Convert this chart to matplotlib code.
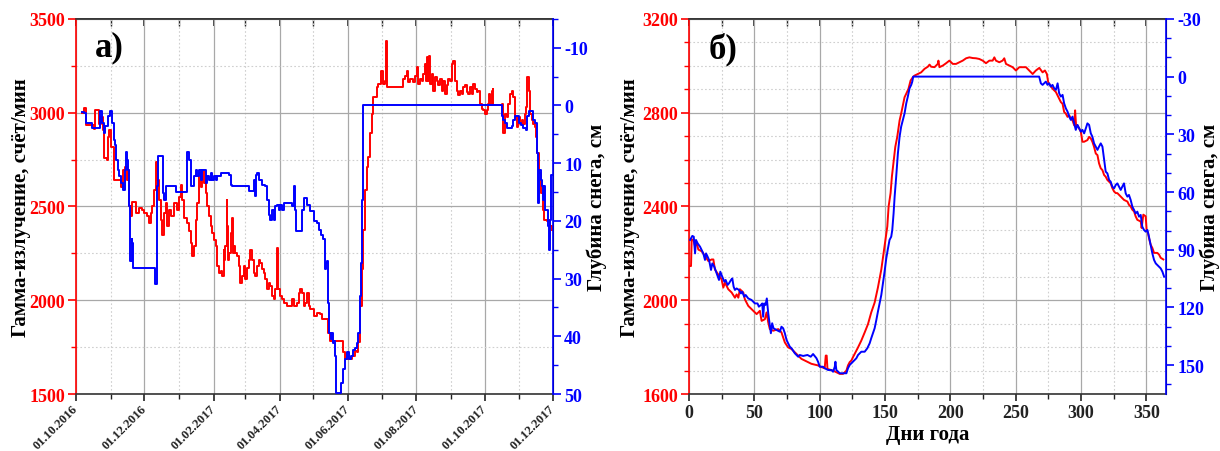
import numpy as np
import matplotlib
matplotlib.use("Agg")
import matplotlib.pyplot as plt
import matplotlib.dates as mdates
from matplotlib.ticker import MultipleLocator, NullFormatter
from datetime import datetime

plt.rcParams['font.family'] = ['Liberation Serif', 'DejaVu Serif']
plt.rcParams['font.weight'] = 'bold'
plt.rcParams['axes.unicode_minus'] = False

# ---------------- Panel a) : days since 01.10.2016 ----------------
a_gamma_day = [5.0, 7.4, 8.9, 16.3, 16.9, 19.3, 20.8, 22.3, 23.7, 25.2, 27.3, 28.2, 29.7, 31.2, 34.1, 37.1,
               40.1, 42.4, 43.6, 45.1, 46.0, 47.5, 49.0, 50.4, 53.4, 56.4, 59.3, 60.8, 63.8, 65.3, 66.8, 68.2,
               69.7, 71.2, 72.7, 74.2, 75.7, 77.2, 78.6, 80.1, 81.6, 83.1, 84.6, 87.5, 90.5, 92.0, 93.5, 95.0,
               96.4, 99.4, 100.9, 102.4, 103.9, 105.3, 106.8, 108.3, 109.8, 111.3, 112.8, 114.2, 115.7, 117.2,
               118.7, 120.2, 121.7, 123.1, 124.6, 126.1, 127.6, 129.1, 130.6, 132.0, 132.6, 133.5, 134.4, 135.0,
               135.9, 136.8, 138.0, 138.9, 139.8, 141.0, 142.4, 143.9, 145.4, 146.9, 148.4, 149.9, 151.3, 152.8,
               154.3, 155.8, 157.3, 158.8, 160.2, 161.7, 163.2, 164.7, 166.2, 167.7, 169.1, 170.6, 172.1, 173.6,
               175.1, 176.6, 178.0, 179.5, 180.1, 182.5, 184.0, 185.5, 188.4, 191.4, 192.9, 194.4, 197.3, 198.8,
               200.3, 201.8, 203.3, 204.7, 206.2, 207.7, 209.2, 212.2, 215.1, 218.1, 219.6, 223.8, 225.3, 226.8,
               237.2, 238.7, 240.2, 243.1, 246.1, 249.1, 250.6, 252.1, 253.5, 255.0, 256.5, 258.0, 259.5, 261.0,
               262.5, 264.0, 265.4, 268.4, 269.9, 272.0, 273.8, 275.9, 276.8, 278.0, 290.7, 292.2, 293.7, 295.2,
               296.1, 298.2, 301.2, 302.7, 304.1, 305.6, 307.1, 308.6, 310.1, 311.6, 312.5, 313.1, 314.0, 315.2,
               316.0, 317.5, 319.0, 320.5, 322.0, 323.5, 325.0, 326.5, 328.0, 329.4, 330.9, 332.4, 333.9, 335.4,
               336.9, 338.4, 339.9, 341.3, 342.8, 344.3, 345.8, 347.3, 348.8, 350.3, 351.8, 353.2, 354.7, 356.2,
               357.7, 359.2, 360.7, 362.2, 363.7, 365.1, 366.6, 368.1, 369.0, 369.6, 371.1, 372.0, 372.6, 380.0,
               380.9, 381.5, 383.0, 384.5, 386.0, 387.5, 389.0, 390.4, 391.9, 393.4, 394.9, 396.4, 397.9, 399.4,
               400.9, 402.3, 403.2, 404.1, 405.3, 406.8, 408.3, 409.8, 410.7, 411.9, 413.7, 415.2, 416.6, 418.1,
               420.2, 421.7, 423.2, 424.7]
a_gamma = [3000, 3025, 2933, 2915, 3016, 3012, 2942, 2977, 2906, 2756, 2747, 2871, 2906, 2818, 2641, 2641,
           2606, 2694, 2712, 2641, 2694, 2500, 2447, 2526, 2465, 2491, 2482, 2465, 2447, 2412, 2465, 2500,
           2588, 2738, 2641, 2535, 2429, 2350, 2465, 2518, 2394, 2482, 2447, 2518, 2482, 2553, 2615, 2535,
           2438, 2412, 2367, 2306, 2235, 2288, 2429, 2518, 2677, 2606, 2694, 2624, 2571, 2500,
           2447, 2394, 2359, 2323, 2288, 2182, 2147, 2155, 2129, 2270, 2217, 2288, 2535, 2394,
           2217, 2253, 2359, 2438, 2253, 2288, 2253, 2235, 2182, 2094, 2129, 2182, 2111, 2173,
           2217, 2270, 2217, 2147, 2129, 2182, 2217, 2200, 2164, 2147, 2111, 2058, 2094, 2076,
           2023, 2005, 2058, 2279, 2058, 2023, 2005, 1988, 1970, 1970, 2005, 1970, 1988, 2041,
           2058, 2041, 1970, 1988, 2041, 1970, 1952, 1917, 1934, 1926, 1899, 1899, 1828, 1784,
           1784, 1722, 1687, 1687, 1705, 1731, 1722, 1775, 1970, 2164, 2376, 2588, 2712, 2765,
           2889, 2995, 3083, 3136, 3154, 3224, 3154, 3171, 3383, 3136, 3136, 3180, 3198, 3224,
           3163, 3180, 3163, 3198, 3242, 3154, 3180, 3171, 3207, 3260, 3171, 3295, 3171, 3304,
           3154, 3207, 3118, 3189, 3171, 3145, 3180, 3118, 3171, 3101, 3145, 3180, 3171, 3260,
           3277, 3171, 3118, 3092, 3118, 3101, 3136, 3145, 3110, 3101, 3136, 3101, 3154, 3127,
           3110, 3118, 3048, 3021, 3012, 2995, 3012, 3048, 3101, 3039, 3118, 3127, 3039, 3048,
           2942, 2889, 2995, 2977, 3048, 3101, 3118, 3083, 2977, 2924, 2977, 2942, 2959, 2942,
           2995, 3030, 3189, 3118, 2995, 2959, 2942, 2924, 2871, 2783, 2677, 2571, 2482, 2429,
           2420, 2429, 2394, 2376]

a_snow_day = [5.0, 7.4, 8.9, 13.4, 13.9, 20.8, 21.7, 22.8, 24.6, 25.8, 28.2, 30.6, 31.8, 33.5, 34.7, 35.6,
              37.1, 38.6, 40.1, 42.4, 43.6, 44.5, 45.4, 46.6, 47.5, 48.4, 49.6, 50.4, 51.3, 68.2, 70.3, 72.1,
              73.3, 76.3, 77.4, 78.6, 80.1, 81.6, 87.5, 89.0, 97.9, 99.4, 100.9, 102.4, 103.9, 105.3, 106.8,
              108.3, 109.8, 111.3, 112.8, 114.2, 115.7, 117.2, 118.7, 120.2, 121.7, 123.1, 124.6, 126.1, 129.1,
              136.5, 138.0, 139.5, 152.8, 154.3, 157.3, 158.8, 159.6, 160.5, 161.7, 163.2, 166.2, 169.1, 170.6,
              172.1, 173.6, 175.1, 176.6, 178.0, 179.5, 181.0, 182.5, 184.0, 185.5, 191.4, 192.9, 194.4, 195.3,
              196.7, 200.3, 201.8, 203.3, 206.2, 209.2, 212.2, 215.1, 216.6, 218.7, 220.8, 222.3, 223.2, 224.4,
              225.3, 226.2, 227.4, 228.2, 229.1, 230.3, 231.2, 232.1, 235.1, 236.3, 238.7, 240.2, 242.2, 244.0,
              245.2, 247.0, 249.1, 250.6, 252.1, 253.5, 254.4, 255.6, 256.5, 378.5, 380.0, 381.5, 383.0, 384.5,
              387.5, 389.0, 390.4, 391.9, 394.9, 395.8, 397.0, 399.4, 401.8, 403.0, 404.1, 406.8, 408.3, 409.8,
              411.3, 411.9, 412.5, 413.7, 414.9, 415.8, 416.6, 417.8, 418.7, 420.2, 421.4, 422.3, 423.2, 424.1,
              425.6]
a_snow = [1.2, 1.3, 3.1, 3.1, 3.9, 3.9, 1.0, 3.1, 4.8, 3.6, 1.9, 0.9, 3.1, 5.9, 6.8, 9.4,
          11.1, 12.3, 13.4, 14.6, 11.1, 8.0, 9.4, 11.1, 17.5, 27.0, 23.2, 23.8, 28.1, 28.1, 31.0, 14.0,
          8.8, 8.8, 15.2, 16.3, 14.0, 13.9, 13.9, 15.0, 15.0, 8.0, 9.4, 14.0, 14.0, 12.3, 11.1,
          12.3, 11.1, 12.9, 11.1, 11.1, 13.4, 12.3, 12.9, 11.7, 12.9, 12.3, 12.9, 12.3, 11.7,
          12.0, 13.7, 14.0, 14.0, 14.9, 14.9, 12.9, 15.7, 12.0, 11.7, 12.9, 13.7, 14.0, 16.3,
          18.9, 19.8, 18.1, 19.8, 17.5, 17.2, 18.1, 17.2, 18.1, 16.9, 16.9, 17.5, 14.0, 18.1,
          21.8, 21.8, 18.1, 16.0, 17.2, 18.3, 20.1, 20.4, 21.5, 22.5, 23.2, 28.4, 27.3, 27.0,
          34.2, 39.4, 40.5, 39.4, 41.1, 40.8, 43.4, 49.8, 49.8, 48.0, 45.7, 44.0, 42.8, 44.0,
          43.4, 42.3, 42.0, 41.1, 39.4, 33.0, 27.3, 16.3, 0.0, 0.0, 1.9, 2.5, 3.1, 3.9,
          3.9, 3.6, 2.5, 1.9, 1.9, 3.1, 3.3, 3.9, 4.2, 1.9, 1.0, 1.0, 2.5, 3.1,
          4.2, 8.2, 16.9, 11.1, 12.9, 14.0, 16.3, 14.0, 18.1, 18.1, 20.9, 25.0, 19.8, 12.0,
          12.0]

# ---------------- Panel б) : day of year ----------------
b_gamma_day = [0.0, 1.5, 2.0, 3.3, 4.6, 5.9, 7.1, 9.7, 12.2, 14.8, 17.3, 18.6, 19.8, 22.4, 24.9, 26.2, 27.5,
               30.0, 32.6, 35.1, 36.4, 37.7, 38.9, 41.5, 42.7, 45.3, 47.8, 50.4, 51.7, 54.2, 55.5, 58.0, 59.3,
               60.6, 61.8, 64.4, 68.2, 70.7, 73.3, 75.8, 78.4, 80.9, 83.5, 86.0, 88.5, 91.1, 93.6, 98.7, 101.3,
               103.8, 104.6, 105.3, 105.9, 110.2, 112.7, 115.3, 117.8, 119.1, 120.4, 121.6, 122.9, 124.2, 125.4,
               126.7, 128.0, 129.3, 131.8, 134.4, 136.9, 139.4, 142.0, 144.5, 147.1, 148.9, 150.4, 151.7, 152.7,
               154.2, 155.2, 156.7, 157.8, 159.3, 161.1, 162.3, 163.6, 164.9, 166.2, 167.9, 169.5, 171.2, 172.5,
               175.1, 177.6, 180.2, 182.7, 184.0, 185.2, 187.8, 190.3, 190.8, 191.6, 194.2, 196.7, 199.2, 201.8,
               204.3, 206.9, 209.4, 212.0, 214.5, 217.1, 219.6, 222.1, 224.7, 227.2, 229.8, 232.3, 233.6, 234.8,
               237.4, 239.9, 241.2, 242.5, 245.0, 247.6, 250.1, 252.7, 255.2, 257.8, 260.3, 262.9, 265.4, 268.0,
               270.5, 272.3, 273.8, 274.8, 276.4, 278.2, 280.7, 282.0, 283.2, 284.5, 285.8, 287.0, 288.3, 289.6,
               290.9, 292.1, 293.4, 294.7, 295.4, 296.2, 297.2, 298.5, 299.8, 301.0, 302.3, 304.8, 306.1, 307.4,
               308.6, 309.9, 311.2, 312.5, 313.7, 315.0, 316.3, 317.6, 318.8, 320.1, 321.4, 322.6, 323.9, 325.2,
               326.5, 327.7, 330.3, 331.5, 332.8, 335.4, 336.6, 337.9, 339.2, 340.5, 341.7, 343.0, 345.6, 346.3,
               347.6, 349.4, 350.1, 351.2, 351.9, 353.2, 354.5, 355.8, 358.3, 359.6, 360.9, 362.9]
b_gamma = [2146, 2146, 2259, 2259, 2230, 2244, 2216, 2209, 2188, 2167, 2174, 2174, 2131, 2110, 2089, 2054, 2075,
           2047, 2033, 2011, 2025, 2011, 2047, 2033, 2004, 1976, 1962, 1948, 1941, 1955, 1912, 1919, 1948,
           1905, 1877, 1870, 1877, 1863, 1820, 1799, 1792, 1778, 1764, 1750, 1743, 1736, 1729, 1722, 1715,
           1710, 1764, 1764, 1707, 1700, 1693, 1686, 1686, 1693, 1700, 1722, 1736, 1743, 1757,
           1771, 1785, 1799, 1828, 1863, 1898, 1948, 1990, 2054, 2131, 2202, 2259, 2315, 2400,
           2457, 2527, 2598, 2654, 2697, 2767, 2796, 2831, 2866, 2881, 2902, 2937, 2951, 2958,
           2965, 2972, 2987, 2996, 3005, 2996, 2994, 3008, 3022, 2994, 3001, 3011, 3022, 3008,
           3008, 3015, 3022, 3032, 3036, 3033, 3032, 3029, 3022, 3011, 3022, 3022, 3036, 3022,
           3015, 3022, 3032, 3008, 3001, 2994, 2980, 2994, 2994, 2994, 2980, 2965, 2980, 2991,
           2972, 2980, 2965, 2930, 2916, 2902, 2888, 2873, 2859, 2845, 2838, 2803, 2796, 2782,
           2789, 2775, 2767, 2746, 2810, 2739, 2746, 2732, 2718, 2676, 2676, 2683, 2697, 2690,
           2676, 2654, 2626, 2619, 2584, 2563, 2555, 2534, 2527, 2513, 2506, 2499, 2478, 2464,
           2457, 2457, 2442, 2435, 2428, 2421, 2407, 2400, 2386, 2379, 2358, 2343, 2336, 2308,
           2365, 2358, 2301, 2287, 2266, 2237, 2223, 2202, 2202, 2195, 2181, 2174]

b_snow_day = [0.8, 2.5, 3.6, 4.6, 5.3, 6.6, 8.4, 10.9, 12.2, 13.0, 14.2, 15.3, 16.8, 17.8, 19.3, 21.1, 22.9,
              23.9, 25.4, 27.0, 28.0, 29.5, 30.5, 32.1, 33.1, 34.1, 35.1, 36.4, 38.2, 39.7, 40.7, 42.2, 43.3,
              45.3, 47.8, 50.4, 52.4, 53.4, 55.0, 56.0, 56.7, 57.5, 58.5, 59.5, 60.6, 61.6, 62.6, 63.6, 64.6,
              66.9, 69.5, 70.7, 72.0, 73.3, 74.6, 75.8, 77.1, 78.4, 80.9, 83.5, 84.7, 87.3, 90.6, 93.1, 94.9,
              97.5, 98.7, 100.0, 102.5, 103.8, 106.4, 108.9, 110.2, 111.5, 112.0, 112.7, 115.3, 117.8, 120.4,
              121.6, 122.9, 125.4, 128.0, 129.3, 131.8, 134.4, 136.4, 138.2, 139.4, 142.0, 143.3, 144.5, 147.1,
              149.6, 150.9, 152.2, 153.4, 154.7, 155.5, 156.5, 157.3, 158.5, 159.8, 161.1, 162.3, 163.6, 164.9,
              166.2, 167.4, 168.7, 170.0, 170.8, 171.5, 267.9, 269.2, 270.5, 271.7, 273.0, 274.3, 275.5, 276.8,
              278.1, 279.4, 280.7, 282.0, 283.2, 284.5, 285.8, 287.0, 288.3, 289.6, 290.9, 292.1, 293.4, 294.7,
              295.9, 297.2, 298.5, 299.8, 301.0, 302.3, 303.6, 304.8, 306.1, 307.4, 308.6, 309.9, 311.2, 312.5,
              313.7, 315.0, 316.3, 317.6, 318.8, 320.1, 321.4, 322.6, 323.9, 325.2, 326.5, 327.7, 329.0, 330.3,
              331.5, 332.8, 334.1, 335.4, 336.6, 337.9, 339.2, 340.5, 341.7, 343.0, 344.3, 345.6, 346.8, 348.1,
              349.4, 350.7, 351.9, 353.2, 354.5, 355.8, 357.1, 358.3, 359.6, 360.9, 362.2, 363.5]
b_snow = [84.9, 82.8, 83.2, 91.9, 84.9, 86.7, 88.4, 91.9, 95.3, 91.9, 93.6, 95.3, 100.5, 97.1, 98.8, 102.3, 105.7,
          101.4, 104.0, 106.6, 105.7, 108.3, 107.5, 105.7, 104.9, 109.2, 110.9, 110.1, 110.9, 112.7, 111.8, 114.4, 113.5,
          115.3, 116.1, 117.9, 117.9, 119.6, 118.7, 117.9, 124.8, 117.9, 118.7, 115.3, 123.1, 128.2, 133.4, 128.2, 130.8,
          131.7, 132.6, 130.0, 130.8, 133.4, 136.9, 138.6, 140.4, 141.2, 143.8, 145.6, 144.7, 145.2, 144.7, 145.6, 144.2,
          146.4, 148.2, 150.8, 150.8, 151.6, 152.5, 152.5, 153.4, 150.8, 148.2, 152.5, 154.2, 154.2, 154.2,
          151.6, 149.9, 148.2, 146.4, 144.7, 143.0, 143.0, 141.2, 138.6, 136.0, 130.8, 126.5, 122.2, 113.5,
          101.4, 94.5, 89.3, 84.9, 83.2, 79.7, 71.1, 62.4, 52.0, 39.9, 31.2, 26.0, 22.5, 19.1,
          13.9, 10.4, 6.1, 4.3, 2.6, 0.0, 0.0, 3.5, 4.3, 3.5, 2.6, 4.3, 3.5, 5.2,
          4.3, 6.1, 6.9, 3.5, 8.7, 10.4, 9.5, 13.9, 16.5, 18.2, 20.8, 22.5, 20.8, 24.3,
          27.7, 25.1, 26.9, 28.6, 27.7, 29.5, 26.9, 24.3, 25.1, 29.5, 31.2, 34.7, 36.4, 38.1,
          36.4, 34.7, 36.4, 43.3, 49.4, 50.3, 53.7, 54.6, 57.2, 58.1, 56.3, 55.5, 57.2, 58.9,
          57.2, 55.5, 60.7, 62.4, 61.5, 64.1, 67.6, 69.3, 71.1, 70.2, 72.8, 71.9, 78.0, 79.7,
          80.6, 79.7, 83.2, 87.5, 91.9, 95.3, 97.1, 97.9, 98.8, 99.7, 101.4, 104.0]

ylabel_left = 'Гамма-излучение, счёт/мин'
ylabel_right = 'Глубина снега, см'
xlabel_b = 'Дни года'

RED = '#ff0000'
BLUE = '#0000ff'
LW = 1.4

fig = plt.figure(figsize=(12.2, 4.52), dpi=100)
axa = fig.add_axes([0.0623, 0.126, 0.391, 0.830])
axb = fig.add_axes([0.5648, 0.126, 0.391, 0.830])


def style(ax, ax2, ymaj, ymin, y2maj, y2min, lx, rx):
    ax.yaxis.set_major_locator(MultipleLocator(ymaj))
    ax.yaxis.set_minor_locator(MultipleLocator(ymin))
    ax2.yaxis.set_major_locator(MultipleLocator(y2maj))
    ax2.yaxis.set_minor_locator(MultipleLocator(y2min))
    ax.grid(which='major', color='#a8a8a8', lw=0.9)
    ax.grid(which='minor', color='#cfcfcf', lw=0.8, ls=(0, (1.5, 2)))
    ax.set_axisbelow(True)
    for sp in ('top', 'bottom'):
        ax.spines[sp].set_color('#333333')
        ax.spines[sp].set_linewidth(1.2)
    ax.spines['left'].set_color(RED)
    ax.spines['left'].set_linewidth(1.2)
    ax2.spines['right'].set_color(BLUE)
    ax2.spines['right'].set_linewidth(1.2)
    ax2.spines['left'].set_visible(False)
    ax2.spines['top'].set_visible(False)
    ax2.spines['bottom'].set_visible(False)
    ax.tick_params(axis='y', which='major', colors=RED, labelcolor=RED, length=6, width=1.2,
                   labelsize=13, direction='out', pad=2)
    ax.tick_params(axis='y', which='minor', colors=RED, length=3.5, width=1.0, direction='out')
    ax2.tick_params(axis='y', which='major', colors=BLUE, labelcolor=BLUE, length=6, width=1.2,
                    labelsize=13, direction='out', pad=2)
    ax2.tick_params(axis='y', which='minor', colors=BLUE, length=3.5, width=1.0, direction='out')
    ax.tick_params(axis='x', which='major', bottom=True, top=False, length=5, width=1.2,
                   direction='out', colors='#222222', pad=2)
    ax.tick_params(axis='x', which='minor', bottom=True, top=False, length=3.5, width=1.0,
                   direction='out', colors='#222222')
    for lab in ax.get_yticklabels() + ax2.get_yticklabels():
        lab.set_fontweight('bold')
    ax.set_ylabel(ylabel_left, fontsize=15, fontweight='bold', color='black')
    ax2.set_ylabel(ylabel_right, fontsize=15, fontweight='bold', color='black')
    ax.yaxis.set_label_coords(lx, 0.5)
    ax2.yaxis.set_label_coords(rx, 0.5)


def top_ticks(ax, maj, mnr):
    sec = ax.secondary_xaxis('top')
    sec.xaxis.set_major_locator(maj)
    sec.xaxis.set_minor_locator(mnr)
    sec.xaxis.set_major_formatter(NullFormatter())
    sec.tick_params(which='major', direction='in', length=5, width=1.2, colors='#222222')
    sec.tick_params(which='minor', direction='in', length=5, width=1.0, colors='#222222')
    sec.spines['top'].set_color('#333333')
    sec.spines['top'].set_linewidth(1.2)


# ---- panel a
base = mdates.date2num(datetime(2016, 10, 1))
axa2 = axa.twinx()
axa.plot(base + np.array(a_gamma_day), a_gamma, color=RED, lw=LW, zorder=3, drawstyle='steps-post')
axa2.plot(base + np.array(a_snow_day), a_snow, color=BLUE, lw=LW, zorder=3, drawstyle='steps-post')
axa.set_xlim(mdates.date2num(datetime(2016, 10, 1)), mdates.date2num(datetime(2017, 12, 1)))
axa.set_ylim(1500, 3500)
axa2.set_ylim(50, -15)
axa.xaxis.set_major_locator(mdates.MonthLocator(bymonth=[2, 4, 6, 8, 10, 12]))
axa.xaxis.set_minor_locator(mdates.MonthLocator())
axa.xaxis.set_major_formatter(mdates.DateFormatter('%d.%m.%Y'))
style(axa, axa2, 500, 250, 10, 5, -0.094, 1.071)
top_ticks(axa, mdates.MonthLocator(bymonth=[2, 4, 6, 8, 10, 12]), mdates.MonthLocator())
axa.tick_params(axis='x', which='major', pad=4)
for lab in axa.get_xticklabels():
    lab.set_rotation(45)
    lab.set_ha('right')
    lab.set_va('center')
    lab.set_rotation_mode('anchor')
    lab.set_fontsize(9.2)
    lab.set_fontweight('bold')
axa.text(0.04, 0.925, 'а)', transform=axa.transAxes, fontsize=25, fontweight='bold',
         ha='left', va='center')

# ---- panel b
axb2 = axb.twinx()
axb.plot(b_gamma_day, b_gamma, color=RED, lw=LW, zorder=3)
axb2.plot(b_snow_day, b_snow, color=BLUE, lw=LW, zorder=3)
axb.set_xlim(0, 365)
axb.set_ylim(1600, 3200)
axb2.set_ylim(165, -30)
axb.xaxis.set_major_locator(MultipleLocator(50))
axb.xaxis.set_minor_locator(MultipleLocator(25))
style(axb, axb2, 400, 100, 30, 10, -0.103, 1.071)
top_ticks(axb, MultipleLocator(50), MultipleLocator(25))
for lab in axb.get_xticklabels():
    lab.set_fontsize(13)
    lab.set_fontweight('bold')
axb.set_xlabel(xlabel_b, fontsize=15, fontweight='bold', labelpad=2)
axb.text(0.04, 0.92, 'б)', transform=axb.transAxes, fontsize=25, fontweight='bold',
         ha='left', va='center')

fig.savefig('out.png', dpi=100)
